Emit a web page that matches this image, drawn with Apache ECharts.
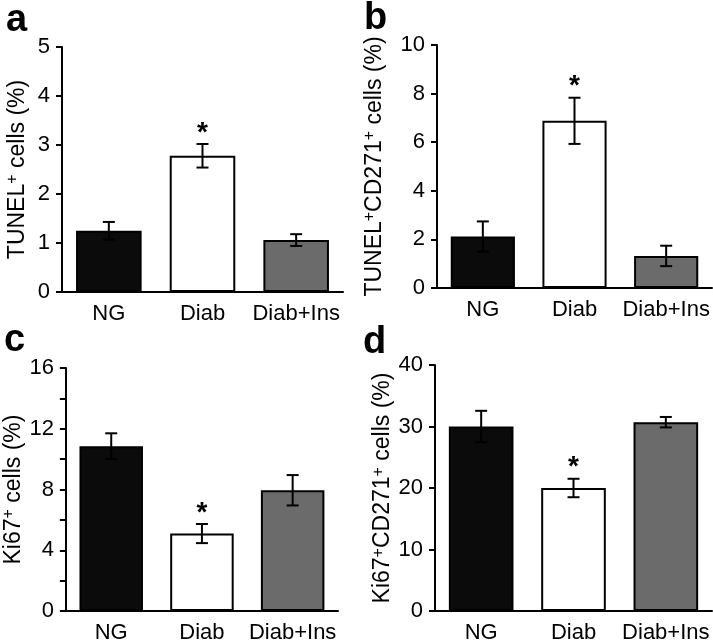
<!DOCTYPE html>
<html>
<head>
<meta charset="utf-8">
<script src="https://cdn.jsdelivr.net/npm/echarts@6/dist/echarts.min.js"></script>
<style>
  html, body { margin: 0; padding: 0; background: #fff; }
  #chart { width: 713px; height: 644px; }
</style>
</head>
<body>
<div id="chart"></div>
<script>
const categories = ['NG', 'Diab', 'Diab+Ins'];
const barFills = ['#0b0b0b', '#ffffff', '#6b6b6b'];

// a: TUNEL+ cells (%)
const tunelMean = [1.25, 2.78, 1.06];
const tunelErr = [0.18, 0.24, 0.12];
// b: TUNEL+CD271+ cells (%)
const tunelCdMean = [2.12, 6.88, 1.32];
const tunelCdErr = [0.62, 0.95, 0.42];
// c: Ki67+ cells (%)
const ki67Mean = [10.85, 5.1, 7.95];
const ki67Err = [0.85, 0.63, 1.0];
// d: Ki67+CD271+ cells (%)
const ki67CdMean = [30.0, 20.0, 30.7];
const ki67CdErr = [2.55, 1.5, 0.85];
// significance asterisk per bar
const starred = [0, 1, 0];

const FONT = '"Liberation Sans", Arial, sans-serif';

const panels = [
    { letter: 'a', mean: tunelMean, err: tunelErr, max: 5, interval: 1, labelEvery: 1,
      name: '{m|TUNEL}{s|+}{m| cells (%)}',
      grid: { left: 62, top: 47, width: 281, height: 245 }, nameGap: 31, lx: 6, ly: 38 },
    { letter: 'b', mean: tunelCdMean, err: tunelCdErr, max: 10, interval: 2, labelEvery: 2,
      name: '{m|TUNEL}{s|+}{m|CD271}{s|+}{m| cells (%)}',
      grid: { left: 437, top: 45, width: 275, height: 243 }, nameGap: 49, lx: 364, ly: 36 },
    { letter: 'c', mean: ki67Mean, err: ki67Err, max: 16, interval: 2, labelEvery: 4,
      name: '{m|Ki67}{s|+}{m| cells (%)}',
      grid: { left: 62, top: 368, width: 276, height: 244 }, nameGap: 31, lx: 4, ly: 358 },
    { letter: 'd', mean: ki67CdMean, err: ki67CdErr, max: 40, interval: 10, labelEvery: 10,
      name: '{m|Ki67}{s|+}{m|CD271}{s|+}{m| cells (%)}',
      grid: { left: 435, top: 365, width: 277, height: 246 }, nameGap: 37, lx: 363, ly: 360 }
];

function renderError(params, api) {
    const top = api.coord([api.value(0), api.value(2)]);
    const bot = api.coord([api.value(0), api.value(1)]);
    const cap = 6;
    const style = { stroke: '#000', lineWidth: 2 };
    const children = [
        { type: 'line', shape: { x1: top[0], y1: top[1], x2: bot[0], y2: bot[1] }, style: style },
        { type: 'line', shape: { x1: top[0] - cap, y1: top[1], x2: top[0] + cap, y2: top[1] }, style: style },
        { type: 'line', shape: { x1: bot[0] - cap, y1: bot[1], x2: bot[0] + cap, y2: bot[1] }, style: style }
    ];
    if (api.value(3)) {
        children.push({
            type: 'text',
            style: { text: '*', x: top[0], y: top[1] - 11, align: 'center', verticalAlign: 'middle',
                     font: 'bold 28px ' + FONT, fill: '#000' }
        });
    }
    return { type: 'group', children: children };
}

const axisLineStyle = { color: '#000', width: 2 };
const grids = [], xAxes = [], yAxes = [], series = [], graphics = [];

panels.forEach(function (p, i) {
    grids.push(p.grid);
    xAxes.push({
        type: 'category', gridIndex: i, data: categories,
        axisLine: { lineStyle: axisLineStyle },
        axisTick: { length: 6, lineStyle: { width: 2, color: '#000' } },
        axisLabel: { color: '#000', fontSize: 22, fontFamily: FONT, margin: 11, interval: 0, hideOverlap: false }
    });
    yAxes.push({
        type: 'value', gridIndex: i, min: 0, max: p.max, interval: p.interval,
        name: p.name, nameLocation: 'middle', nameRotate: 90, nameGap: p.nameGap,
        nameTextStyle: {
            rich: {
                m: { fontSize: 23, fontFamily: FONT, color: '#000', lineHeight: 26 },
                s: { fontSize: 16, fontFamily: FONT, color: '#000', verticalAlign: 'top', lineHeight: 4 }
            }
        },
        splitLine: { show: false },
        axisLine: { show: true, lineStyle: axisLineStyle },
        axisTick: { show: true, length: 6, lineStyle: { width: 2, color: '#000' } },
        axisLabel: {
            color: '#000', fontSize: 22, fontFamily: FONT, margin: 12,
            formatter: function (v) { return v % p.labelEvery === 0 ? String(v) : ''; }
        }
    });
    series.push({
        type: 'bar', xAxisIndex: i, yAxisIndex: i, barWidth: '70%',
        itemStyle: { borderColor: '#000', borderWidth: 2 },
        data: p.mean.map(function (v, k) { return { value: v, itemStyle: { color: barFills[k] } }; })
    });
    series.push({
        type: 'custom', xAxisIndex: i, yAxisIndex: i, z: 5,
        renderItem: renderError,
        encode: { x: 0, y: [1, 2] },
        data: p.mean.map(function (v, k) { return [k, v - p.err[k], v + p.err[k], starred[k]]; })
    });
    graphics.push({
        type: 'text', left: p.lx, top: p.ly - 36,
        style: { text: p.letter, font: 'bold 38px ' + FONT, fill: '#000' }
    });
});

const chart = echarts.init(document.getElementById('chart'));
chart.setOption({
    animation: false,
    backgroundColor: '#fff',
    grid: grids,
    xAxis: xAxes,
    yAxis: yAxes,
    series: series,
    graphic: graphics
});
window.addEventListener('resize', () => chart.resize());
</script>
</body>
</html>
